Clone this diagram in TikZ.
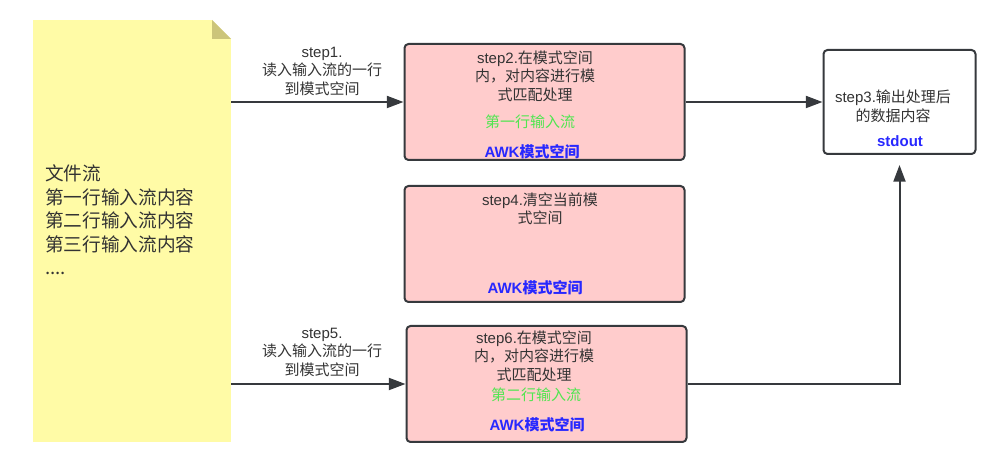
\documentclass[tikz,border=0pt]{standalone}
\usepackage{fontspec}
\setmainfont{Liberation Sans}
\newfontfamily\cjk{Noto Sans CJK SC}
\usetikzlibrary{positioning, arrows.meta, calc}
\definecolor{NoteYellow}{RGB}{255, 251, 166}
\definecolor{NoteFold}{RGB}{204, 197, 122}
\definecolor{SpacePink}{RGB}{255, 204, 204}
\definecolor{EdgeGray}{RGB}{54, 57, 61}
\definecolor{TextGray}{RGB}{51, 51, 51}
\definecolor{InputGreen}{RGB}{80, 230, 80}
\definecolor{SpaceBlue}{RGB}{40, 40, 255}
\newcommand{\zh}[1]{{\cjk #1}}

\tikzset{
  spacebox/.style={draw=EdgeGray, fill=SpacePink, line width=1.5pt, rounded corners=3pt,
    minimum width=210pt, minimum height=87pt},
  outbox/.style={draw=EdgeGray, fill=white, line width=1.5pt, rounded corners=3pt,
    minimum width=114pt, minimum height=78pt},
  notebox/.style={fill=NoteYellow, minimum width=148.5pt, minimum height=316.5pt},
  steptext/.style={text=TextGray, align=center, inner sep=0pt, font=\fontsize{11.25}{13.9}\selectfont},
  inputtext/.style={text=InputGreen, inner sep=0pt, font=\cjk\fontsize{11.25}{13.9}\selectfont},
  spacetext/.style={text=SpaceBlue, inner sep=0pt, font=\bfseries\fontsize{11.25}{13.9}\selectfont},
  flow/.style={draw=EdgeGray, line width=1.5pt, -{Triangle[length=12.5pt, width=9pt]}}
}

\begin{document}
\begin{tikzpicture}[x=0.75pt, y=-0.75pt]
    \useasboundingbox (0,0) rectangle (997,463);

    % File stream note
    \node[notebox] (note) at (132,231) {};
    \fill[white] (212,20) -- (231,20) -- (231,39) -- cycle;
    \fill[NoteFold] (212,20) -- (212,39) -- (231,39) -- cycle;
    \node[text=TextGray, align=left, anchor=west, inner sep=0pt,
      font=\cjk\fontsize{14}{17.6}\selectfont] (notetext) at (45,220)
      {文件流\\第一行输入流内容\\第二行输入流内容\\第三行输入流内容\\....};

    % Pattern spaces
    \node[spacebox] (box1) at (544.5,102) {};
    \node[steptext] (step2) at (535,76) {step2.\zh{在模式空间}\\\zh{内，对内容进行模}\\\zh{式匹配处理}};
    \node[inputtext] (line1) at (530,122) {第一行输入流};
    \node[spacetext] (awk1) at (532,152) {AWK\zh{模式空间}};

    \node[spacebox] (box2) at (544.5,244) {};
    \node[steptext] (step4) at (540,209) {step4.\zh{清空当前模}\\\zh{式空间}};
    \node[spacetext] (awk2) at (535,288) {AWK\zh{模式空间}};

    \node[spacebox] (box3) at (546.5,384) {};
    \node[steptext] (step6) at (534,356) {step6.\zh{在模式空间}\\\zh{内，对内容进行模}\\\zh{式匹配处理}};
    \node[inputtext] (line2) at (536,395) {第二行输入流};
    \node[spacetext] (awk3) at (537,425) {AWK\zh{模式空间}};

    % Output
    \node[outbox] (out) at (899.5,102) {};
    \node[steptext] (step3) at (893,106.5) {step3.\zh{输出处理后}\\\zh{的数据内容}};
    \node[spacetext] (stdout) at (900,141) {stdout};

    % Arrow labels
    \node[steptext] (step1) at (322,71) {step1.\\\zh{读入输入流的一行}\\\zh{到模式空间}};
    \node[steptext] (step5) at (322,352) {step5.\\\zh{读入输入流的一行}\\\zh{到模式空间}};

    % Connectors
    \draw[flow] (note.east |- box1.west) -- (box1.west);
    \draw[flow] (box1.east) -- (out.west);
    \draw[flow] (note.east |- box3.west) -- (box3.west);
    \draw[flow, shorten >=7.5pt] (box3.east) -| (out.south);
\end{tikzpicture}
\end{document}
